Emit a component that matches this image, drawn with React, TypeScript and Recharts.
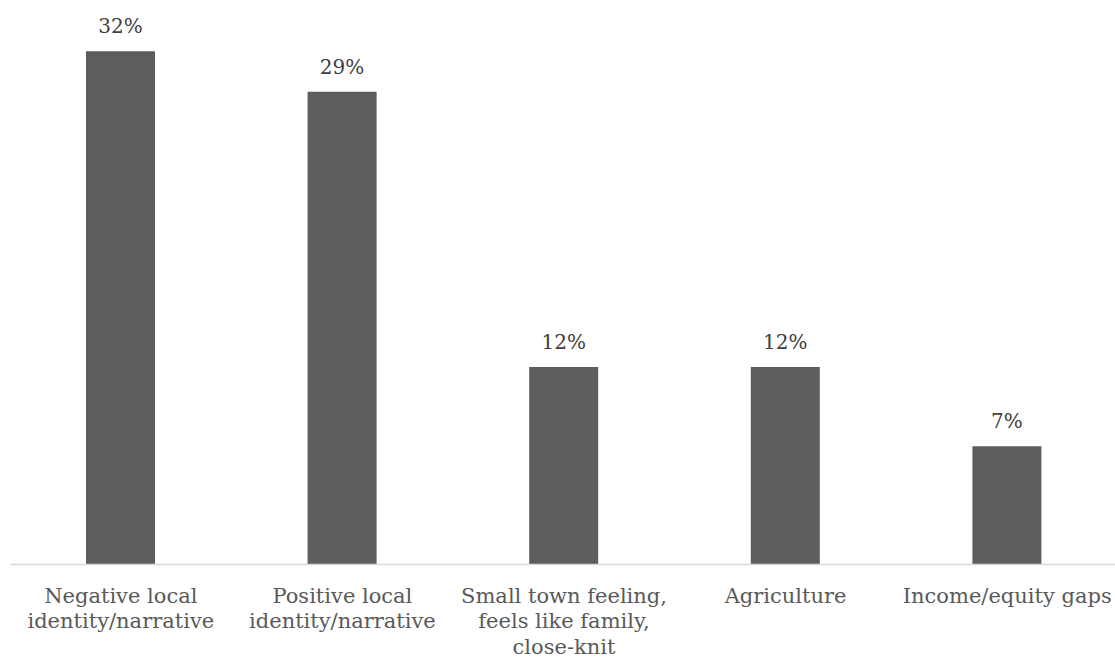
import React from "react";
import { BarChart, Bar, XAxis, YAxis, LabelList } from "recharts";

const categories: string[] = [
  "Negative local\nidentity/narrative",
  "Positive local\nidentity/narrative",
  "Small town feeling,\nfeels like family,\nclose-knit",
  "Agriculture",
  "Income/equity gaps",
];
const values: number[] = [31.7, 29.2, 12.2, 12.2, 7.3];

const data = categories.map((c, i) => ({ name: c, value: values[i] }));

const FONT = "'DejaVu Serif', serif";

const Tick = (props: any) => {
  const { x, y, payload } = props;
  const lines: string[] = String(payload.value).split("\n");
  return (
    <g transform={`translate(${x},${y})`}>
      <text textAnchor="middle" fill="#595959" fontFamily={FONT} fontSize={21}>
        {lines.map((l, i) => (
          <tspan key={i} x={0} y={30 + i * 25.5}>
            {l}
          </tspan>
        ))}
      </text>
    </g>
  );
};

export default function App() {
  return (
    <div style={{ width: 1115, height: 657, overflow: "hidden", background: "#fff" }}>
      <style>{`html,body{margin:0;padding:0;overflow:hidden}`}</style>
      <BarChart
        width={1118}
        height={657}
        data={data}
        margin={{ top: 14, right: 0, left: 10, bottom: 0 }}
        barSize={69}
      >
        <XAxis
          dataKey="name"
          axisLine={{ stroke: "#d9d9d9", strokeWidth: 1.5 }}
          tickLine={false}
          height={92.5}
          interval={0}
          tick={<Tick />}
        />
        <YAxis hide domain={[0, 34]} />
        <Bar dataKey="value" fill="#5d5d5d" isAnimationActive={false}>
          <LabelList
            dataKey="value"
            position="top"
            offset={18}
            formatter={(v: any) => `${Math.round(Number(v))}%`}
            fill="#404040"
            fontFamily={FONT}
            fontSize={20}
          />
        </Bar>
      </BarChart>
    </div>
  );
}
